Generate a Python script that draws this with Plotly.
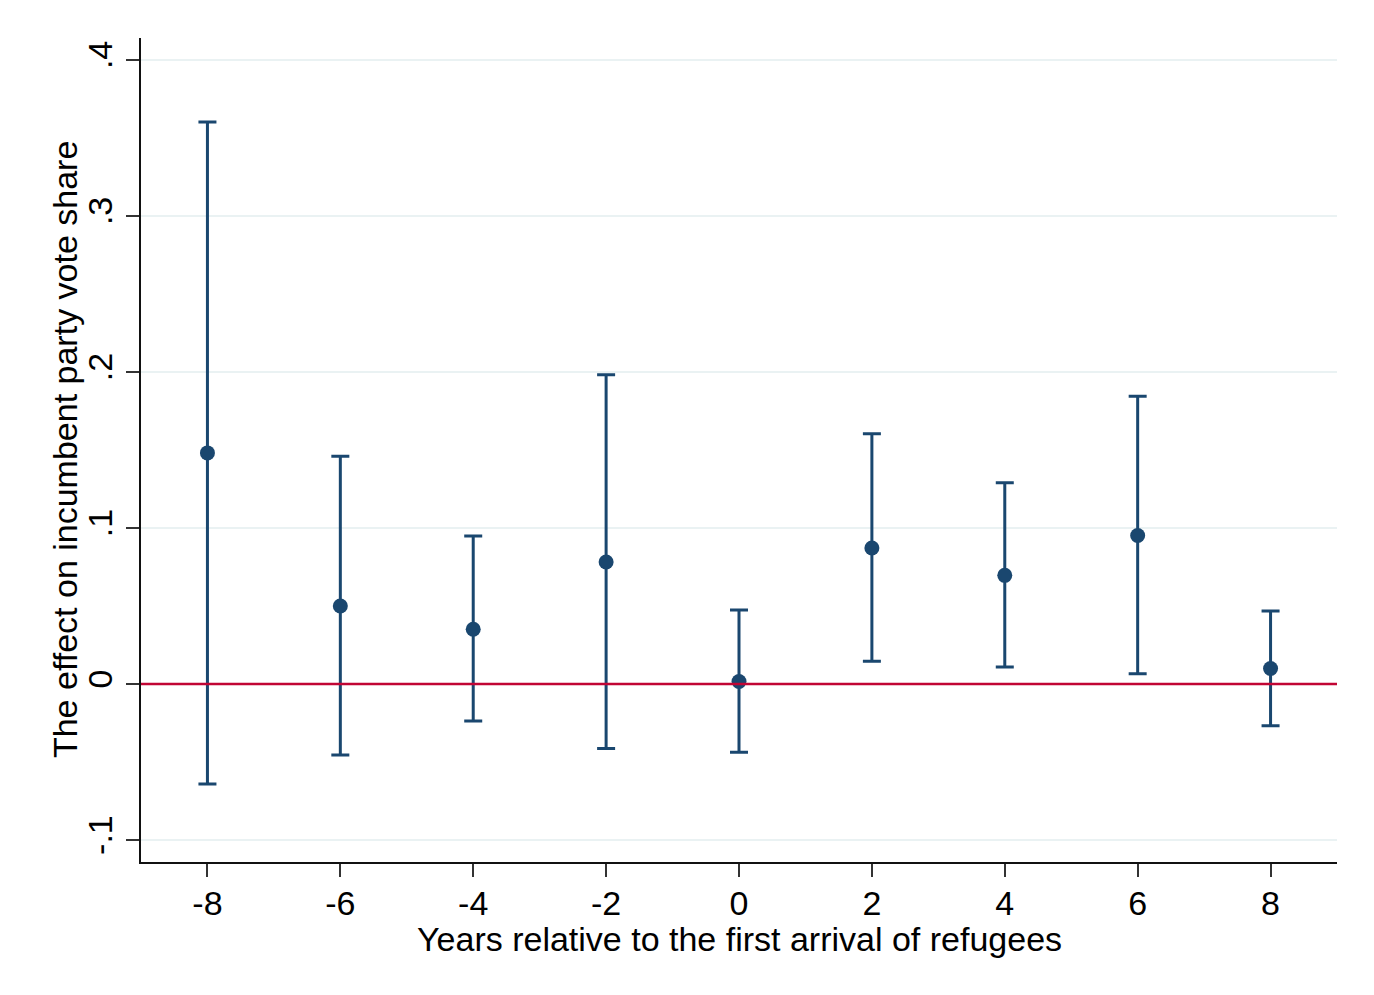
import plotly.graph_objects as go

years = [-8, -6, -4, -2, 0, 2, 4, 6, 8]
estimate = [0.1482, 0.0501, 0.0352, 0.0783, 0.0017, 0.0872, 0.0697, 0.0953, 0.0100]
upper = [0.3602, 0.1461, 0.0949, 0.1983, 0.0475, 0.1604, 0.1290, 0.1845, 0.0469]
lower = [-0.0640, -0.0454, -0.0237, -0.0412, -0.0437, 0.0147, 0.0109, 0.0066, -0.0267]

y_tickvals = [-0.1, 0, 0.1, 0.2, 0.3, 0.4]
y_ticktext = ["-.1", "0", ".1", ".2", ".3", ".4"]
x_tickvals = years
x_ticktext = [str(v) for v in years]

x_title = "Years relative to the first arrival of refugees"
y_title = "The effect on incumbent party vote share"

navy = "#1a476f"
red = "#c10534"
grid = "#eaf2f3"
font_family = "Arial, Liberation Sans, sans-serif"

err_plus = [u - e for u, e in zip(upper, estimate)]
err_minus = [e - l for e, l in zip(estimate, lower)]

fig = go.Figure()
fig.add_trace(go.Scatter(
    x=years, y=estimate, mode="markers",
    marker=dict(color=navy, size=15),
    error_y=dict(type="data", symmetric=False, array=err_plus, arrayminus=err_minus,
                 color=navy, thickness=3, width=9),
    showlegend=False,
))

fig.add_shape(type="line", xref="paper", x0=0, x1=1, yref="y", y0=0, y1=0,
              line=dict(color=red, width=2.5), layer="above")

fig.add_annotation(text=x_title, xref="paper", yref="paper", x=0.5, y=-0.0935,
                   xanchor="center", yanchor="middle", showarrow=False,
                   font=dict(size=34, family=font_family, color="black"))
fig.add_annotation(text=y_title, xref="paper", yref="paper", x=-0.0635, y=0.5,
                   xanchor="center", yanchor="middle", showarrow=False, textangle=-90,
                   font=dict(size=34, family=font_family, color="black"))

fig.update_layout(
    width=1374, height=995,
    margin=dict(l=141, r=37, t=38, b=133),
    paper_bgcolor="white", plot_bgcolor="white",
    font=dict(family=font_family, color="black", size=34),
    xaxis=dict(
        range=[-9, 9], tickvals=x_tickvals, ticktext=x_ticktext,
        showgrid=False, zeroline=False,
        showline=True, linecolor="#111111", linewidth=2,
        ticks="outside", ticklen=13, tickwidth=2, tickcolor="#333333",
        tickfont=dict(size=34), ticklabelstandoff=-3,
    ),
    yaxis=dict(
        range=[-0.114, 0.4141], tickvals=y_tickvals, ticktext=y_ticktext,
        tickangle=-90,
        showgrid=True, gridcolor=grid, gridwidth=2, zeroline=False,
        showline=True, linecolor="#111111", linewidth=2,
        ticks="outside", ticklen=13, tickwidth=2, tickcolor="#333333",
        tickfont=dict(size=34),
    ),
)

fig.write_html("out.html")
